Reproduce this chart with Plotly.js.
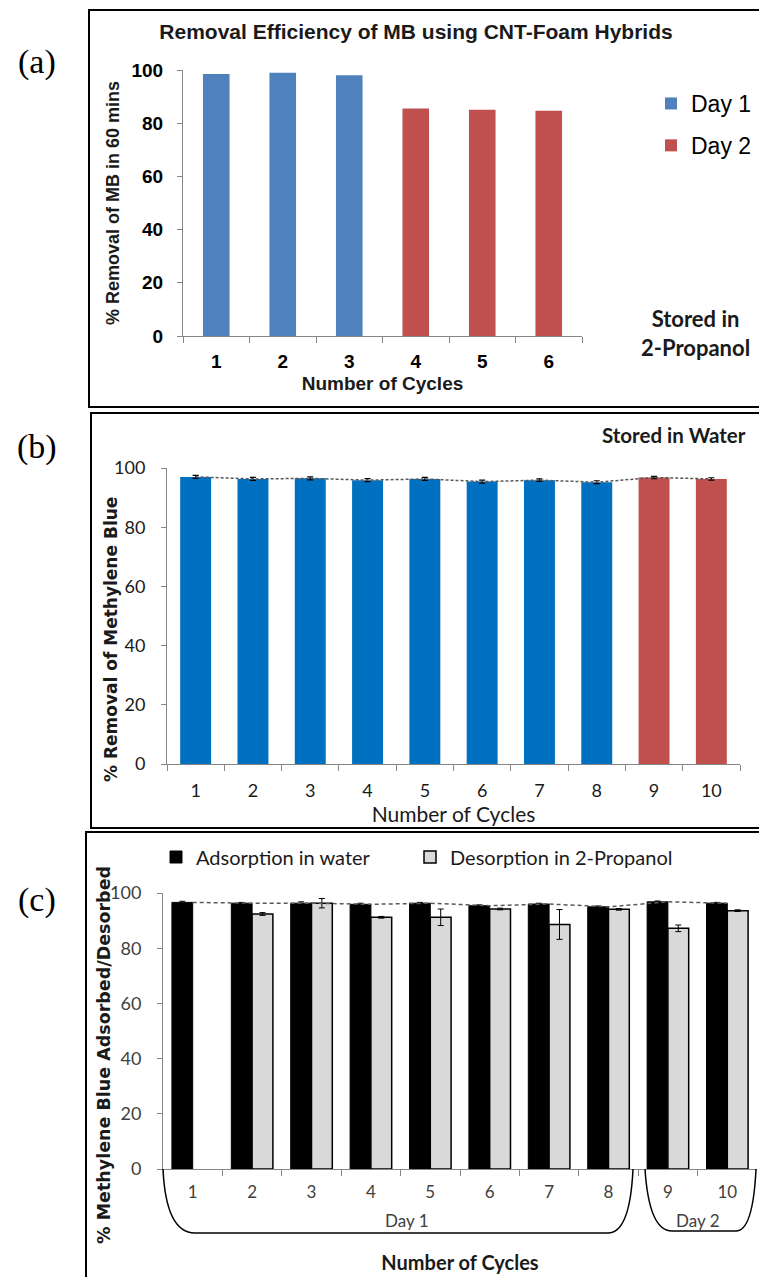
<!DOCTYPE html>
<html><head><meta charset="utf-8">
<script src="https://cdn.plot.ly/plotly-3.0.1.min.js"></script>
<style>html,body{margin:0;padding:0;background:#fff}#chart{width:759px;height:1277px}</style>
</head><body><div id="chart"></div>
<script>
// ---------- data ----------
// Panel (a): stored in 2-Propanol
const day1CyclesA = ['1', '2', '3'];
const day1RemovalA = [98.5, 99.0, 98.0];
const day2CyclesA = ['4', '5', '6'];
const day2RemovalA = [85.5, 85.1, 84.7];

// Panel (b): stored in water
const day1CyclesB = ['1', '2', '3', '4', '5', '6', '7', '8'];
const day1RemovalB = [97.0, 96.3, 96.5, 95.9, 96.3, 95.4, 95.9, 95.2];
const day1ErrB = [0.5, 0.5, 0.5, 0.5, 0.5, 0.5, 0.4, 0.5];
const day2CyclesB = ['9', '10'];
const day2RemovalB = [96.8, 96.3];
const day2ErrB = [0.4, 0.4];

// Panel (c): adsorption in water / desorption in 2-Propanol
const cyclesC = ['1', '2', '3', '4', '5', '6', '7', '8', '9', '10'];
const adsorption = [96.6, 96.3, 96.3, 95.9, 96.3, 95.4, 96.0, 95.0, 96.8, 96.3];
const adsorptionErr = [0.4, 0.3, 0.5, 0.4, 0.3, 0.3, 0.3, 0.3, 0.3, 0.3];
const desorption = [null, 92.4, 96.3, 91.2, 91.2, 94.2, 88.6, 94.1, 87.2, 93.6];
const desorptionErr = [0, 0.5, 1.7, 0.3, 3.0, 0.3, 5.4, 0.3, 1.2, 0.3];

// ---------- helpers ----------
const W = 759, H = 1277;
const px = v => v / W;
const py = v => 1 - v / H;
const ARIAL = 'Liberation Sans, Arial, sans-serif';
const CAL = 'Lato, Carlito, Calibri, sans-serif';
const VERD = 'DejaVu Sans, Verdana, sans-serif';
const TIMES = 'Liberation Serif, Times New Roman, serif';
const AX = '#868686';

const cyclesB = day1CyclesB.concat(day2CyclesB);
const removalB = day1RemovalB.concat(day2RemovalB);
const cyclesA = day1CyclesA.concat(day2CyclesA);

const traces = [
  // (a)
  {type: 'bar', x: day1CyclesA, y: day1RemovalA, name: 'Day 1', legendgroup: 'd1',
   marker: {color: '#4F81BD'}, width: 0.4, xaxis: 'x', yaxis: 'y', legend: 'legend'},
  {type: 'bar', x: day2CyclesA, y: day2RemovalA, name: 'Day 2', legendgroup: 'd2',
   marker: {color: '#C0504D'}, width: 0.4, xaxis: 'x', yaxis: 'y', legend: 'legend'},
  // (b)
  {type: 'bar', x: day1CyclesB, y: day1RemovalB, name: 'Day 1 (water)', showlegend: false,
   marker: {color: '#0070C0'}, width: 0.54, xaxis: 'x2', yaxis: 'y2',
   error_y: {type: 'data', array: day1ErrB, color: '#000', thickness: 1.2, width: 3}},
  {type: 'bar', x: day2CyclesB, y: day2RemovalB, name: 'Day 2 (water)', showlegend: false,
   marker: {color: '#C0504D'}, width: 0.54, xaxis: 'x2', yaxis: 'y2',
   error_y: {type: 'data', array: day2ErrB, color: '#000', thickness: 1.2, width: 3}},
  {type: 'scatter', mode: 'lines', x: cyclesB, y: removalB, showlegend: false,
   line: {color: '#595959', width: 1.5, dash: '3px,2px'}, xaxis: 'x2', yaxis: 'y2', hoverinfo: 'skip'},
  // (c)
  {type: 'bar', x: cyclesC, y: adsorption, name: 'Adsorption in water', legend: 'legend2',
   marker: {color: '#000000', line: {color: '#000', width: 1}}, offset: -0.35, width: 0.35,
   xaxis: 'x3', yaxis: 'y3',
   error_y: {type: 'data', array: adsorptionErr, color: '#000', thickness: 1, width: 3}},
  {type: 'bar', x: cyclesC, y: desorption, name: 'Desorption in 2-Propanol', legend: 'legend3',
   marker: {color: '#D9D9D9', line: {color: '#000', width: 1.5}}, offset: 0, width: 0.35,
   xaxis: 'x3', yaxis: 'y3',
   error_y: {type: 'data', array: desorptionErr, color: '#000', thickness: 1, width: 3}},
  {type: 'scatter', mode: 'lines', x: cyclesC, y: adsorption, showlegend: false,
   line: {color: '#595959', width: 1.5, dash: '4px,3px'}, xaxis: 'x3', yaxis: 'y3', hoverinfo: 'skip'}
];

function xax(d0, d1, anchor, font, tfont, title, standoff, lblStand, extra) {
  return Object.assign({
    domain: [px(d0), px(d1)], anchor: anchor, type: 'category', tickson: 'boundaries',
    ticks: 'outside', ticklen: 6, tickcolor: AX, tickwidth: 1,
    showline: true, linecolor: AX, linewidth: 1, showgrid: false, zeroline: false,
    tickfont: font, ticklabelstandoff: lblStand,
    title: {text: title, font: tfont, standoff: standoff}, fixedrange: true
  }, extra || {});
}
function yax(top, bottom, anchor, font, tfont, title, standoff, lblStand) {
  const a = {
    domain: [py(bottom), py(top)], anchor: anchor, range: [0, 100], dtick: 20, tick0: 0,
    ticks: 'outside', ticklen: 5, tickcolor: AX, tickwidth: 1,
    showline: true, linecolor: AX, linewidth: 1, showgrid: false, zeroline: false,
    tickfont: font, ticklabelstandoff: lblStand, fixedrange: true
  };
  if (title) a.title = {text: title, font: tfont, standoff: standoff};
  return a;
}

const boxLine = {color: '#000', width: 2};
const shapes = [
  {type: 'rect', xref: 'paper', yref: 'paper', x0: px(89), x1: px(775), y0: py(10), y1: py(407), line: boxLine},
  {type: 'rect', xref: 'paper', yref: 'paper', x0: px(91), x1: px(775), y0: py(413), y1: py(828), line: boxLine},
  {type: 'rect', xref: 'paper', yref: 'paper', x0: px(86), x1: px(775), y0: py(832), y1: py(1300), line: boxLine},
  // brackets under panel (c)
  {type: 'path', xref: 'paper', yref: 'paper', line: {color: '#000', width: 1.5},
   path: `M${px(163)},${py(1169)} Q${px(166)},${py(1233)} ${px(195)},${py(1233)} L${px(608)},${py(1233)} Q${px(630)},${py(1233)} ${px(633)},${py(1169)}`},
  {type: 'path', xref: 'paper', yref: 'paper', line: {color: '#000', width: 1.5},
   path: `M${px(645)},${py(1169)} Q${px(649)},${py(1231)} ${px(672)},${py(1231)} L${px(736)},${py(1231)} Q${px(753)},${py(1231)} ${px(756)},${py(1169)}`}
];

function note(text, x, y, font, extra) {
  return Object.assign({text: text, x: px(x), y: py(y), xref: 'paper', yref: 'paper',
    xanchor: 'center', yanchor: 'middle', showarrow: false, font: font}, extra || {});
}
const annotations = [
  note('(a)', 37, 62, {family: TIMES, size: 34, color: '#000'}),
  note('(b)', 37, 447, {family: TIMES, size: 34, color: '#000'}),
  note('(c)', 37, 900, {family: TIMES, size: 34, color: '#000'}),
  note('Stored in<br>2-Propanol', 695, 333, {family: CAL, size: 22, weight: 'bold', color: '#1a1a1a'}, {align: 'center'}),
  note('Stored in Water', 748, 435, {family: CAL, size: 20.5, weight: 'bold', color: '#1a1a1a'}, {xanchor: 'right'}),
  note('Day 1', 407, 1220, {family: CAL, size: 17, color: '#404040'}),
  note('Day 2', 698, 1220, {family: CAL, size: 17, color: '#404040'}),
  // y-axis titles of panels (b) and (c) (placed like the original, below the plot centre)
  note('% Removal of Methylene Blue', 111, 639, {family: VERD, size: 17, weight: 'bold', color: '#1a1a1a'}, {textangle: -90}),
  note('% Methylene Blue Adsorbed/Desorbed', 104, 1055, {family: VERD, size: 17.5, weight: 'bold', color: '#1a1a1a'}, {textangle: -90})
];

const layout = {
  width: W, height: H, margin: {l: 0, r: 0, t: 0, b: 0},
  paper_bgcolor: '#fff', plot_bgcolor: 'rgba(0,0,0,0)',
  barmode: 'overlay', showlegend: true,
  title: {text: 'Removal Efficiency of MB using CNT-Foam Hybrids', x: px(416), y: py(32),
          xanchor: 'center', yanchor: 'middle', xref: 'paper', yref: 'paper',
          font: {family: ARIAL, size: 21, weight: 'bold', color: '#1a1a1a'}},
  xaxis: xax(183, 582, 'y', {family: ARIAL, size: 19, weight: 'bold', color: '#000'},
             {family: ARIAL, size: 19, weight: 'bold', color: '#1a1a1a'}, 'Number of Cycles', 5, 8,
             {categoryorder: 'array', categoryarray: cyclesA}),
  yaxis: yax(70, 336, 'x', {family: ARIAL, size: 19, weight: 'bold', color: '#000'},
             {family: ARIAL, size: 18, weight: 'bold', color: '#1a1a1a'}, '% Removal of MB in 60 mins', 7, 10),
  xaxis2: xax(167, 740, 'y2', {family: CAL, size: 18, color: '#1a1a1a'},
             {family: CAL, size: 21, color: '#1a1a1a'}, 'Number of Cycles', 0, 10,
             {categoryorder: 'array', categoryarray: cyclesB}),
  yaxis2: yax(468, 764, 'x2', {family: CAL, size: 18, color: '#1a1a1a'}, null, null, 0, 12),
  xaxis3: xax(163, 757, 'y3', {family: CAL, size: 17, color: '#404040'},
             {family: CAL, size: 20, weight: 'bold', color: '#1a1a1a'}, 'Number of Cycles', 54, 8,
             {categoryorder: 'array', categoryarray: cyclesC}),
  yaxis3: yax(893, 1169, 'x3', {family: CAL, size: 18, color: '#404040'}, null, null, 0, 12),
  legend: {x: px(651), y: py(82), xanchor: 'left', yanchor: 'top', bgcolor: 'rgba(0,0,0,0)',
           font: {family: ARIAL, size: 23, color: '#000'}, tracegroupgap: 9, borderwidth: 0},
  legend2: {x: px(156), y: py(857), xanchor: 'left', yanchor: 'middle', bgcolor: 'rgba(0,0,0,0)',
            font: {family: CAL, size: 20, color: '#1a1a1a'}, borderwidth: 0},
  legend3: {x: px(410), y: py(857), xanchor: 'left', yanchor: 'middle', bgcolor: 'rgba(0,0,0,0)',
            font: {family: CAL, size: 20, color: '#1a1a1a'}, borderwidth: 0},
  shapes: shapes,
  annotations: annotations
};

Plotly.newPlot('chart', traces, layout, {displayModeBar: false, staticPlot: true});
</script>
</body></html>
